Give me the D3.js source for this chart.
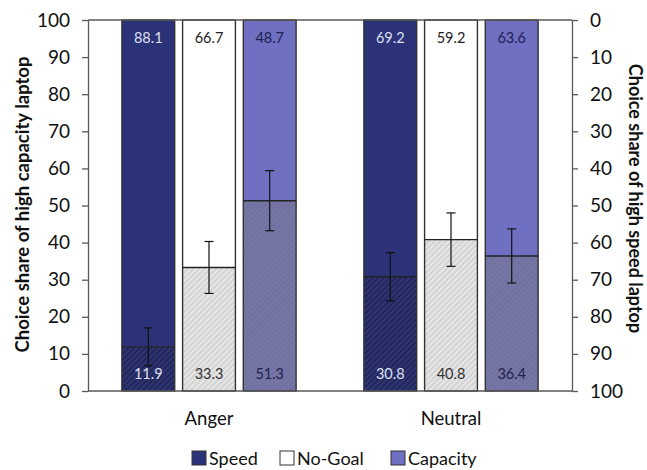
<!DOCTYPE html>
<html>
<head>
<meta charset="utf-8">
<script src="https://cdn.jsdelivr.net/npm/d3@7"></script>
<style>
  body { margin: 0; background: #fff; }
  text { font-family: Lato, "Open Sans", sans-serif; }
</style>
</head>
<body>
<svg id="chart" width="647" height="470"></svg>
<script>
// data
const groups = ['Anger', 'Neutral']
const goals = ['Speed', 'No-Goal', 'Capacity']
// choice share of high capacity laptop (lower hatched part)
const capacityShare = {
  Anger: [11.9, 33.3, 51.3],
  Neutral: [30.8, 40.8, 36.4]
}
// half-width of the error bars
const errors = {
  Anger: [5.1, 7.0, 8.1],
  Neutral: [6.5, 7.2, 7.3]
}
const yTicks = [0, 10, 20, 30, 40, 50, 60, 70, 80, 90, 100]

const upperColor = {Speed: '#2b3277', 'No-Goal': '#ffffff', Capacity: '#6f70c2'}
const lowerColor = {Speed: '#2d3270', 'No-Goal': '#d6d6d6', Capacity: '#7676a6'}
const hatchColor = {Speed: '#161a40', 'No-Goal': '#f8f8f8', Capacity: '#6c6c9a'}
const upperText = {Speed: '#dde0f2', 'No-Goal': '#222', Capacity: '#1f2150'}
const lowerText = {Speed: '#dde0f2', 'No-Goal': '#333', Capacity: '#1f2150'}

const svg = d3.select('#chart')
const margin = {top: 20, left: 88, right: 75, bottom: 79}
const width = 647 - margin.left - margin.right
const height = 470 - margin.top - margin.bottom

const defs = svg.append('defs')
goals.forEach((g, i) => {
  const p = defs.append('pattern')
    .attr('id', 'hatch' + i)
    .attr('patternUnits', 'userSpaceOnUse')
    .attr('width', 4)
    .attr('height', 4)
    .attr('patternTransform', 'rotate(45)')
  p.append('rect').attr('width', 4).attr('height', 4).attr('fill', lowerColor[g])
  p.append('line')
    .attr('x1', 0).attr('y1', 0).attr('x2', 0).attr('y2', 4)
    .attr('stroke', hatchColor[g])
    .attr('stroke-width', 1.6)
})

const plot = svg.append('g').attr('transform', `translate(${margin.left},${margin.top})`)

const x0 = d3.scaleBand().domain(groups).range([0, width])
const x1 = d3.scaleBand().domain(goals)
  .range([x0.bandwidth() * 0.14, x0.bandwidth() * 0.86])
  .paddingInner(0.13)
const y = d3.scaleLinear().domain([0, 100]).range([height, 0])
const yRight = d3.scaleLinear().domain([0, 100]).range([0, height])

// bars
const group = plot.selectAll('g.grp')
  .data(groups)
  .join('g')
  .attr('class', 'grp')
  .attr('transform', d => `translate(${x0(d)},0)`)

const bars = group.selectAll('g.bar')
  .data(g => goals.map((goal, i) => ({group: g, goal, i, v: capacityShare[g][i], e: errors[g][i]})))
  .join('g')
  .attr('class', 'bar')

bars.append('rect')
  .attr('x', d => x1(d.goal))
  .attr('y', y(100))
  .attr('width', x1.bandwidth())
  .attr('height', d => y(d.v) - y(100))
  .attr('fill', d => upperColor[d.goal])

bars.append('rect')
  .attr('x', d => x1(d.goal))
  .attr('y', d => y(d.v))
  .attr('width', x1.bandwidth())
  .attr('height', d => y(0) - y(d.v))
  .attr('fill', d => `url(#hatch${d.i})`)

// outlines
bars.append('rect')
  .attr('x', d => x1(d.goal))
  .attr('y', y(100))
  .attr('width', x1.bandwidth())
  .attr('height', y(0) - y(100))
  .attr('fill', 'none')
  .attr('stroke', '#333')
  .attr('stroke-width', 1.4)

bars.append('line')
  .attr('x1', d => x1(d.goal))
  .attr('x2', d => x1(d.goal) + x1.bandwidth())
  .attr('y1', d => y(d.v))
  .attr('y2', d => y(d.v))
  .attr('stroke', '#222')
  .attr('stroke-width', 1.4)

// error bars
const cx = d => x1(d.goal) + x1.bandwidth() / 2
bars.append('line')
  .attr('x1', cx).attr('x2', cx)
  .attr('y1', d => y(d.v + d.e)).attr('y2', d => y(d.v - d.e))
  .attr('stroke', '#111').attr('stroke-width', 1.2)
bars.selectAll('line.cap')
  .data(d => [d.v + d.e, d.v - d.e].map(val => ({d, val})))
  .join('line')
  .attr('class', 'cap')
  .attr('x1', o => cx(o.d) - 4.5).attr('x2', o => cx(o.d) + 4.5)
  .attr('y1', o => y(o.val)).attr('y2', o => y(o.val))
  .attr('stroke', '#111').attr('stroke-width', 1.2)

// value labels
bars.append('text')
  .attr('x', cx)
  .attr('y', y(100) + 23)
  .attr('text-anchor', 'middle')
  .attr('font-size', 14.5)
  .attr('fill', d => upperText[d.goal])
  .text(d => (100 - d.v).toFixed(1))

bars.append('text')
  .attr('x', cx)
  .attr('y', y(0) - 12)
  .attr('text-anchor', 'middle')
  .attr('font-size', 14.5)
  .attr('fill', d => lowerText[d.goal])
  .text(d => d.v.toFixed(1))

// frame
const axisColor = '#595959'
plot.append('line').attr('x1', 0).attr('x2', width).attr('y1', 0).attr('y2', 0)
  .attr('stroke', axisColor).attr('stroke-width', 1.3)
plot.append('line').attr('x1', 0).attr('x2', width).attr('y1', height).attr('y2', height)
  .attr('stroke', axisColor).attr('stroke-width', 1.3)

const leftAxis = plot.append('g')
  .call(d3.axisLeft(y).tickValues(yTicks).tickSize(6).tickSizeOuter(0).tickPadding(12))
const rightAxis = plot.append('g')
  .attr('transform', `translate(${width},0)`)
  .call(d3.axisRight(yRight).tickValues(yTicks).tickSize(6).tickSizeOuter(0).tickPadding(12))

;[leftAxis, rightAxis].forEach(ax => {
  ax.select('.domain').attr('stroke', axisColor).attr('stroke-width', 1.3)
  ax.selectAll('.tick line').attr('stroke', axisColor).attr('stroke-width', 1.3)
  ax.selectAll('.tick text')
    .attr('font-size', 19)
    .attr('fill', '#111')
    .style('font-family', 'Lato, "Open Sans", sans-serif')
})

// group labels
plot.selectAll('text.grp-label')
  .data(groups)
  .join('text')
  .attr('class', 'grp-label')
  .attr('x', d => x0(d) + x0.bandwidth() / 2)
  .attr('y', height + 34)
  .attr('text-anchor', 'middle')
  .attr('font-size', 18.5)
  .attr('fill', '#111')
  .text(d => d)

// axis titles
svg.append('text')
  .attr('transform', `translate(29,${margin.top + height / 2 - 1}) rotate(-90)`)
  .attr('text-anchor', 'middle')
  .attr('font-size', 18.5)
  .attr('font-weight', 'bold')
  .attr('fill', '#111')
  .text('Choice share of high capacity laptop')

svg.append('text')
  .attr('transform', `translate(629,${margin.top + height / 2 - 7}) rotate(90)`)
  .attr('text-anchor', 'middle')
  .attr('font-size', 18)
  .attr('font-weight', 'bold')
  .attr('fill', '#111')
  .text('Choice share of high speed laptop')

// legend
const legendX = [192, 280, 391]
const legend = svg.append('g')
  .selectAll('g')
  .data(goals)
  .join('g')
  .attr('transform', (d, i) => `translate(${legendX[i]},451)`)
legend.append('rect')
  .attr('width', 14).attr('height', 14)
  .attr('fill', d => upperColor[d])
  .attr('stroke', '#333').attr('stroke-width', 1)
legend.append('text')
  .attr('x', 17).attr('y', 14)
  .attr('font-size', 18)
  .attr('fill', '#111')
  .text(d => d)
</script>
</body>
</html>
